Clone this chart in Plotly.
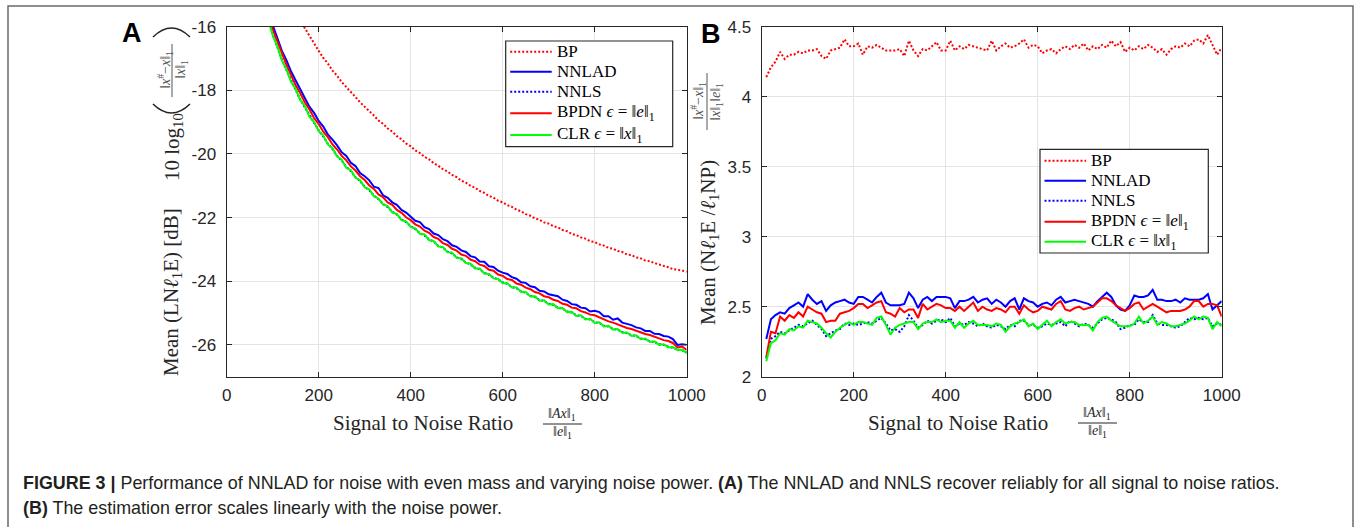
import plotly.graph_objects as go

W, H = 1356, 527

snr = list(range(10, 1001, 10))

a_bp = [-3.75, -6.76, -8.52, -9.77, -10.74, -11.53, -12.20, -12.78, -13.29, -13.75,
        -14.16, -14.54, -14.89, -15.21, -15.51, -15.79, -16.05, -16.30, -16.54, -16.76,
        -16.98, -17.16, -17.38, -17.54, -17.74, -17.89, -18.07, -18.21, -18.38, -18.51,
        -18.67, -18.79, -18.95, -19.05, -19.20, -19.30, -19.44, -19.54, -19.67, -19.76,
        -19.89, -19.97, -20.09, -20.17, -20.29, -20.37, -20.48, -20.55, -20.66, -20.73,
        -20.84, -20.90, -21.00, -21.06, -21.16, -21.22, -21.32, -21.37, -21.47, -21.52,
        -21.61, -21.66, -21.75, -21.80, -21.89, -21.94, -22.02, -22.07, -22.15, -22.19,
        -22.27, -22.31, -22.39, -22.43, -22.51, -22.55, -22.62, -22.66, -22.74, -22.77,
        -22.84, -22.88, -22.95, -22.98, -23.05, -23.08, -23.16, -23.18, -23.25, -23.28,
        -23.35, -23.37, -23.43, -23.47, -23.53, -23.56, -23.62, -23.63, -23.66, -23.70]

a_nnlad = [-5.95, -8.96, -10.72, -11.97, -12.94, -13.73, -14.40, -14.98, -15.49, -15.95,
           -16.33, -16.76, -17.06, -17.41, -17.69, -17.98, -18.22, -18.52, -18.71, -18.96,
           -19.14, -19.39, -19.55, -19.73, -19.95, -20.06, -20.28, -20.38, -20.60, -20.70,
           -20.83, -21.03, -21.07, -21.30, -21.38, -21.52, -21.60, -21.76, -21.84, -21.97,
           -22.10, -22.14, -22.30, -22.36, -22.50, -22.55, -22.68, -22.74, -22.87, -22.92,
           -23.03, -23.08, -23.21, -23.25, -23.38, -23.39, -23.53, -23.55, -23.67, -23.73,
           -23.77, -23.87, -23.92, -24.03, -24.05, -24.16, -24.19, -24.30, -24.32, -24.41,
           -24.44, -24.47, -24.58, -24.62, -24.72, -24.74, -24.83, -24.85, -24.95, -24.93,
           -24.97, -25.10, -25.10, -25.21, -25.17, -25.30, -25.34, -25.38, -25.45, -25.48,
           -25.56, -25.56, -25.65, -25.66, -25.72, -25.74, -25.82, -26.00, -25.98, -26.00]

a_nnls = [-6.22, -9.24, -11.02, -12.25, -13.24, -14.02, -14.70, -15.27, -15.79, -16.24,
          -16.64, -17.03, -17.37, -17.71, -17.99, -18.29, -18.53, -18.80, -19.02, -19.26,
          -19.45, -19.68, -19.85, -20.06, -20.21, -20.41, -20.54, -20.73, -20.85, -21.03,
          -21.14, -21.31, -21.42, -21.57, -21.67, -21.82, -21.90, -22.06, -22.14, -22.27,
          -22.36, -22.49, -22.56, -22.69, -22.75, -22.89, -22.94, -23.07, -23.12, -23.25,
          -23.30, -23.41, -23.47, -23.58, -23.62, -23.74, -23.79, -23.89, -23.94, -24.04,
          -24.08, -24.18, -24.22, -24.32, -24.36, -24.46, -24.49, -24.59, -24.62, -24.71,
          -24.74, -24.83, -24.86, -24.95, -24.98, -25.07, -25.09, -25.18, -25.20, -25.29,
          -25.31, -25.40, -25.42, -25.50, -25.52, -25.60, -25.63, -25.70, -25.72, -25.80,
          -25.82, -25.89, -25.91, -25.98, -26.00, -26.06, -26.09, -26.15, -26.17, -26.24]

a_bpdn = [-6.07, -9.09, -10.83, -12.10, -13.05, -13.86, -14.51, -15.11, -15.60, -16.08,
          -16.46, -16.87, -17.20, -17.52, -17.84, -18.09, -18.38, -18.60, -18.87, -19.06,
          -19.30, -19.47, -19.70, -19.86, -20.06, -20.20, -20.39, -20.52, -20.70, -20.82,
          -20.99, -21.10, -21.27, -21.36, -21.52, -21.60, -21.76, -21.85, -21.99, -22.08,
          -22.21, -22.28, -22.41, -22.48, -22.61, -22.67, -22.80, -22.86, -22.98, -23.04,
          -23.16, -23.20, -23.32, -23.37, -23.48, -23.52, -23.64, -23.67, -23.79, -23.83,
          -23.93, -23.96, -24.07, -24.11, -24.20, -24.25, -24.34, -24.38, -24.47, -24.50,
          -24.58, -24.62, -24.71, -24.74, -24.83, -24.85, -24.94, -24.98, -25.05, -25.07,
          -25.14, -25.19, -25.26, -25.30, -25.36, -25.40, -25.47, -25.50, -25.56, -25.60,
          -25.66, -25.69, -25.75, -25.79, -25.85, -25.88, -25.94, -26.08, -26.05, -26.16]

a_clr = [-6.24, -9.27, -11.00, -12.28, -13.21, -14.05, -14.67, -15.30, -15.76, -16.27,
         -16.62, -17.06, -17.35, -17.74, -17.96, -18.31, -18.50, -18.83, -19.00, -19.28,
         -19.42, -19.70, -19.82, -20.08, -20.18, -20.43, -20.51, -20.75, -20.83, -21.05,
         -21.11, -21.33, -21.40, -21.59, -21.64, -21.84, -21.88, -22.08, -22.12, -22.29,
         -22.34, -22.51, -22.53, -22.71, -22.73, -22.91, -22.92, -23.09, -23.10, -23.27,
         -23.28, -23.43, -23.45, -23.60, -23.60, -23.76, -23.77, -23.91, -23.92, -24.06,
         -24.06, -24.20, -24.20, -24.34, -24.34, -24.48, -24.47, -24.61, -24.60, -24.73,
         -24.72, -24.85, -24.84, -24.97, -24.96, -25.09, -25.07, -25.20, -25.18, -25.31,
         -25.29, -25.42, -25.40, -25.52, -25.50, -25.62, -25.61, -25.72, -25.70, -25.82,
         -25.80, -25.91, -25.89, -26.00, -25.98, -26.08, -26.07, -26.17, -26.15, -26.26]

b_bp = [4.14, 4.21, 4.25, 4.32, 4.27, 4.30, 4.30, 4.32, 4.31, 4.33,
        4.33, 4.34, 4.29, 4.27, 4.33, 4.34, 4.35, 4.41, 4.36, 4.36,
        4.38, 4.30, 4.36, 4.35, 4.37, 4.35, 4.33, 4.33, 4.33, 4.34,
        4.29, 4.40, 4.33, 4.29, 4.34, 4.33, 4.36, 4.39, 4.33, 4.33,
        4.40, 4.33, 4.36, 4.34, 4.37, 4.36, 4.35, 4.34, 4.33, 4.40,
        4.33, 4.36, 4.38, 4.35, 4.36, 4.38, 4.41, 4.35, 4.37, 4.36,
        4.31, 4.33, 4.34, 4.31, 4.34, 4.36, 4.34, 4.37, 4.35, 4.38,
        4.33, 4.36, 4.34, 4.37, 4.35, 4.40, 4.36, 4.39, 4.32, 4.35,
        4.33, 4.36, 4.34, 4.37, 4.35, 4.32, 4.34, 4.30, 4.34, 4.36,
        4.35, 4.38, 4.36, 4.40, 4.41, 4.38, 4.44, 4.37, 4.30, 4.35]

b_nnlad = [2.27, 2.41, 2.44, 2.46, 2.45, 2.49, 2.51, 2.53, 2.50, 2.59,
           2.55, 2.52, 2.54, 2.47, 2.51, 2.53, 2.54, 2.55, 2.53, 2.52,
           2.57, 2.57, 2.55, 2.53, 2.57, 2.60, 2.53, 2.51, 2.51, 2.51,
           2.52, 2.60, 2.56, 2.49, 2.55, 2.57, 2.54, 2.57, 2.57, 2.57,
           2.56, 2.49, 2.54, 2.54, 2.55, 2.57, 2.53, 2.55, 2.56, 2.52,
           2.55, 2.53, 2.50, 2.54, 2.56, 2.48, 2.56, 2.54, 2.53, 2.50,
           2.52, 2.53, 2.51, 2.55, 2.57, 2.53, 2.54, 2.55, 2.54, 2.53,
           2.52, 2.50, 2.54, 2.57, 2.60, 2.57, 2.51, 2.48, 2.47, 2.51,
           2.58, 2.57, 2.57, 2.58, 2.62, 2.55, 2.55, 2.54, 2.54, 2.55,
           2.53, 2.56, 2.55, 2.55, 2.55, 2.56, 2.59, 2.48, 2.51, 2.54]

b_nnls = [2.13, 2.27, 2.29, 2.32, 2.31, 2.33, 2.35, 2.37, 2.36, 2.38,
          2.40, 2.37, 2.34, 2.29, 2.31, 2.33, 2.34, 2.38, 2.37, 2.38,
          2.37, 2.38, 2.39, 2.38, 2.40, 2.42, 2.38, 2.33, 2.34, 2.32,
          2.36, 2.44, 2.40, 2.35, 2.37, 2.40, 2.38, 2.40, 2.41, 2.39,
          2.42, 2.36, 2.38, 2.37, 2.39, 2.38, 2.36, 2.38, 2.36, 2.35,
          2.37, 2.36, 2.34, 2.37, 2.36, 2.40, 2.40, 2.37, 2.37, 2.35,
          2.36, 2.38, 2.37, 2.38, 2.39, 2.36, 2.40, 2.38, 2.36, 2.38,
          2.37, 2.35, 2.38, 2.41, 2.42, 2.41, 2.39, 2.34, 2.35, 2.37,
          2.37, 2.41, 2.39, 2.39, 2.44, 2.38, 2.37, 2.37, 2.36, 2.35,
          2.36, 2.39, 2.42, 2.41, 2.42, 2.41, 2.42, 2.36, 2.38, 2.37]

b_bpdn = [2.14, 2.32, 2.31, 2.43, 2.40, 2.44, 2.42, 2.46, 2.43, 2.50,
          2.48, 2.46, 2.45, 2.39, 2.40, 2.40, 2.45, 2.46, 2.47, 2.49,
          2.52, 2.52, 2.49, 2.51, 2.53, 2.54, 2.46, 2.45, 2.43, 2.49,
          2.46, 2.48, 2.48, 2.42, 2.52, 2.48, 2.50, 2.52, 2.51, 2.49,
          2.49, 2.47, 2.50, 2.47, 2.50, 2.53, 2.47, 2.50, 2.48, 2.47,
          2.49, 2.48, 2.46, 2.50, 2.50, 2.45, 2.51, 2.48, 2.46, 2.47,
          2.50, 2.49, 2.48, 2.52, 2.54, 2.48, 2.47, 2.49, 2.50, 2.48,
          2.49, 2.50, 2.53, 2.56, 2.56, 2.54, 2.51, 2.49, 2.47, 2.49,
          2.52, 2.53, 2.48, 2.50, 2.52, 2.50, 2.48, 2.46, 2.47, 2.47,
          2.47, 2.48, 2.50, 2.54, 2.54, 2.50, 2.52, 2.52, 2.51, 2.43]

b_clr = [2.11, 2.24, 2.26, 2.31, 2.30, 2.34, 2.33, 2.36, 2.35, 2.40,
         2.39, 2.38, 2.35, 2.31, 2.28, 2.32, 2.35, 2.37, 2.39, 2.37,
         2.39, 2.39, 2.38, 2.37, 2.42, 2.43, 2.37, 2.30, 2.35, 2.37,
         2.38, 2.39, 2.39, 2.34, 2.38, 2.39, 2.39, 2.41, 2.39, 2.40,
         2.40, 2.35, 2.39, 2.35, 2.38, 2.40, 2.37, 2.37, 2.37, 2.36,
         2.38, 2.37, 2.32, 2.36, 2.38, 2.39, 2.41, 2.36, 2.38, 2.34,
         2.37, 2.40, 2.36, 2.39, 2.41, 2.38, 2.39, 2.39, 2.37, 2.37,
         2.37, 2.33, 2.39, 2.42, 2.43, 2.40, 2.38, 2.36, 2.36, 2.36,
         2.38, 2.43, 2.38, 2.40, 2.43, 2.37, 2.39, 2.38, 2.36, 2.36,
         2.37, 2.38, 2.40, 2.43, 2.41, 2.43, 2.42, 2.34, 2.39, 2.36]

names = ["BP", "NNLAD", "NNLS",
         "BPDN <i>ϵ</i> = ‖<i>e</i>‖<sub>1</sub>",
         "CLR <i>ϵ</i> = ‖<i>x</i>‖<sub>1</sub>"]
colors = ["#ff0000", "#0000ff", "#0000ff", "#ff0000", "#00ff00"]
dashes = ["2px,2px", "solid", "2px,2px", "solid", "solid"]

for arr in (a_bp, a_nnlad, a_nnls, a_bpdn, a_clr, b_bp, b_nnlad, b_nnls, b_bpdn, b_clr):
    assert len(arr) == len(snr), len(arr)


def px(x):
    return x / W


def py(y):
    return 1 - y / H


AX = "#262626"
SERIF = "Liberation Serif, DejaVu Serif, serif"
SANS = "Liberation Sans, Arial, sans-serif"

fig = go.Figure()
series_a = [a_bp, a_nnlad, a_nnls, a_bpdn, a_clr]
series_b = [b_bp, b_nnlad, b_nnls, b_bpdn, b_clr]
for i in range(5):
    fig.add_trace(go.Scatter(x=snr, y=series_a[i], name=names[i], mode="lines",
                             line=dict(color=colors[i], width=2, dash=dashes[i]),
                             xaxis="x", yaxis="y", showlegend=False))
for i in range(5):
    fig.add_trace(go.Scatter(x=snr, y=series_b[i], name=names[i], mode="lines",
                             line=dict(color=colors[i], width=2, dash=dashes[i]),
                             xaxis="x2", yaxis="y2", showlegend=False))

xt = [0, 200, 400, 600, 800, 1000]
axis_common = dict(showline=True, linecolor=AX, linewidth=1.3, mirror="allticks",
                   ticks="inside", ticklen=5, tickwidth=1.2, tickcolor=AX,
                   showgrid=True, gridcolor="#e4e4e4", gridwidth=1, zeroline=False,
                   automargin=False,
                   tickfont=dict(family=SANS, size=17, color=AX))

ya_vals = [-26, -24, -22, -20, -18, -16]
yb_vals = [2, 2.5, 3, 3.5, 4, 4.5]

fig.update_layout(
    width=W, height=H,
    margin=dict(l=0, r=0, t=0, b=0, pad=0, autoexpand=False),
    paper_bgcolor="white", plot_bgcolor="white",
    xaxis=dict(domain=[px(226.7), px(686.7)], range=[0, 1000], anchor="y",
               tickvals=xt, ticktext=[str(v) for v in xt], ticklabelstandoff=3, **axis_common),
    yaxis=dict(domain=[py(376.7), py(26.7)], range=[-27, -16], anchor="x",
               tickvals=ya_vals, ticktext=[str(v) for v in ya_vals], ticklabelstandoff=6,
               **axis_common),
    xaxis2=dict(domain=[px(761.7), px(1221.7)], range=[0, 1000], anchor="y2",
                tickvals=xt, ticktext=[str(v) for v in xt], ticklabelstandoff=3, **axis_common),
    yaxis2=dict(domain=[py(376.7), py(26.7)], range=[2, 4.5], anchor="x2",
                tickvals=yb_vals, ticktext=["2", "2.5", "3", "3.5", "4", "4.5"],
                ticklabelstandoff=6, **axis_common),
    showlegend=False,
)

annotations = []
shapes = []


def ann(text, x, y, size, family=SERIF, angle=0, color=AX, xanchor="center"):
    annotations.append(dict(text=text, x=px(x), y=py(y), xref="paper", yref="paper",
                            showarrow=False, xanchor=xanchor, yanchor="middle",
                            textangle=angle, borderpad=0,
                            font=dict(family=family, size=size, color=color)))


def seg(x0, y0, x1, y1, color=AX, width=1.0, dash="solid"):
    shapes.append(dict(type="line", xref="paper", yref="paper",
                       x0=px(x0), x1=px(x1), y0=py(y0), y1=py(y1),
                       line=dict(color=color, width=width, dash=dash)))


# Panel letters
ann("<b>A</b>", 132, 33, 27, family=SANS, color="#000000")
ann("<b>B</b>", 711, 34, 27, family=SANS, color="#000000")

# Panel A y-title
ann("Mean (LN<i>ℓ</i><sub>1</sub>E) [dB]", 172, 292, 21, angle=-90)
ann("10 log<sub>10</sub>", 173, 147, 21, angle=-90)
ann("‖<i>x</i><sup>#</sup>−<i>x</i>‖<sub>1</sub>", 165, 70, 14, angle=-90, color="#555555")
ann("‖<i>x</i>‖<sub>1</sub>", 181, 70, 14, angle=-90, color="#555555")
seg(172, 44, 172, 97, color="#555555")
# large parentheses around the fraction (rotated with the label)
shapes.append(dict(type="path", xref="paper", yref="paper",
                   path="M %.5f,%.5f Q %.5f,%.5f %.5f,%.5f" % (px(153), py(37), px(171.5), py(19), px(190), py(37)),
                   line=dict(color=AX, width=1.6)))
shapes.append(dict(type="path", xref="paper", yref="paper",
                   path="M %.5f,%.5f Q %.5f,%.5f %.5f,%.5f" % (px(153), py(104), px(171.5), py(122), px(190), py(104)),
                   line=dict(color=AX, width=1.6)))

# Panel B y-title
ann("Mean (N<i>ℓ</i><sub>1</sub>E /<i>ℓ</i><sub>1</sub>NP)", 709, 243, 21, angle=-90)
ann("‖<i>x</i><sup>#</sup>−<i>x</i>‖<sub>1</sub>", 698, 101, 14, angle=-90, color="#555555")
ann("‖<i>x</i>‖<sub>1</sub>‖<i>e</i>‖<sub>1</sub>", 716, 102, 14, angle=-90, color="#555555")
seg(707, 73, 707, 130, color="#555555")

# x titles
ann("Signal to Noise Ratio", 423.5, 423, 21)
ann("‖<i>Ax</i>‖<sub>1</sub>", 562, 414, 14)
ann("‖<i>e</i>‖<sub>1</sub>", 562, 432, 14)
seg(543, 424, 582, 424)
ann("Signal to Noise Ratio", 958, 423, 21)
ann("‖<i>Ax</i>‖<sub>1</sub>", 1097, 413, 14)
ann("‖<i>e</i>‖<sub>1</sub>", 1097, 431, 14)
seg(1078, 423, 1117, 423)


# Legends (drawn as boxes with samples and labels)
def legend_box(x0, y0, x1, y1, rows):
    shapes.append(dict(type="rect", xref="paper", yref="paper",
                       x0=px(x0), x1=px(x1), y0=py(y1), y1=py(y0),
                       line=dict(color=AX, width=1.2), fillcolor="white", layer="above"))
    for i, yy in enumerate(rows):
        seg(x0 + 4.5, yy, x0 + 46, yy, color=colors[i], width=2, dash=dashes[i])
        ann(names[i], x0 + 50, yy, 17, color="#000000", xanchor="left")


legend_box(505.7, 41, 672.7, 146.7, [51.7, 71.7, 91.7, 113.3, 135])
legend_box(1040, 149.3, 1208.3, 253, [160.7, 180.7, 200.7, 221.7, 241.7])

# Caption
CAP = "Liberation Sans, Arial, sans-serif"
ann("<b>FIGURE 3 |</b> Performance of NNLAD for noise with even mass and varying noise power. "
    "<b>(A)</b> The NNLAD and NNLS recover reliably for all signal to noise ratios.",
    22, 483, 17.9, family=CAP, color="#231f20", xanchor="left")
ann("<b>(B)</b> The estimation error scales linearly with the noise power.",
    22, 508, 17.9, family=CAP, color="#231f20", xanchor="left")

shapes.append(dict(type="rect", xref="paper", yref="paper", x0=px(8), x1=px(1353), y0=-0.05, y1=py(6),
                   line=dict(color="#6a6a6a", width=1.5), fillcolor="rgba(0,0,0,0)", layer="below"))

fig.update_layout(annotations=annotations, shapes=shapes)

fig.write_html("out.html", config={"displayModeBar": False},
               post_script="document.body.style.margin='0px';document.body.style.overflow='hidden';")
